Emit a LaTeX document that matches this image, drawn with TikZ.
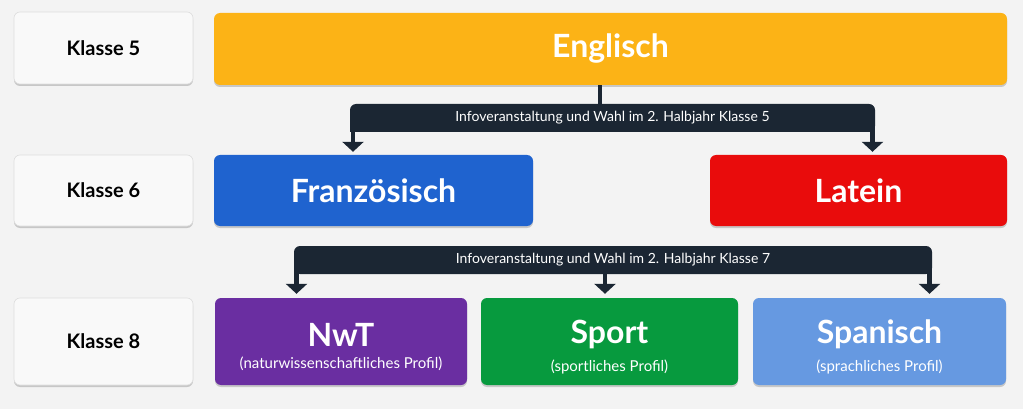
\documentclass[tikz,border=0pt]{standalone}
\usepackage{fontspec}
\setmainfont{Lato}
\usetikzlibrary{arrows.meta,shadows}
\definecolor{bgc}{HTML}{F3F3F3}
\definecolor{lblfill}{HTML}{F9F9F9}
\definecolor{lbldraw}{HTML}{DDDDDD}
\definecolor{engc}{HTML}{FCB316}
\definecolor{frc}{HTML}{1F63CF}
\definecolor{lac}{HTML}{E90C0C}
\definecolor{nwtc}{HTML}{6A2EA1}
\definecolor{spc}{HTML}{079A3E}
\definecolor{spac}{HTML}{6699E1}
\definecolor{darkc}{HTML}{1B2633}
\tikzset{
  box/.style={rounded corners=6pt, inner sep=0pt, align=center, text=white,
    drop shadow={shadow xshift=0pt, shadow yshift=-2pt, opacity=0.18, fill=black}},
  lbl/.style={box, fill=lblfill, draw=lbldraw, line width=0.6pt, text=black,
    font=\fontsize{20}{24}\selectfont\bfseries, minimum width=179pt},
  title/.style={font=\fontsize{32}{36}\selectfont\bfseries},
  barbox/.style={fill=darkc, rounded corners=6pt, inner sep=0pt, minimum height=28pt},
  bartext/.style={text=white, font=\fontsize{14}{16}\selectfont, inner sep=0pt},
  leg/.style={draw=darkc, line width=4.5pt, -{Triangle[width=21pt,length=10pt]}},
  stem/.style={draw=darkc, line width=4.5pt},
}
\newcommand{\twoline}[2]{{\fontsize{32}{34}\selectfont\bfseries\rule{0pt}{34pt}#1}\\[10pt]{\fontsize{15}{17}\selectfont #2}}
\begin{document}
\begin{tikzpicture}[x=1pt,y=-1pt]
\fill[bgc] (0,0) rectangle (1023,409);
\useasboundingbox (0,0) rectangle (1023,409);

% row labels
\node[lbl, minimum height=72pt] (k5) at (103.5,48) {Klasse 5};
\node[lbl, minimum height=71pt] (k6) at (103.5,190.5) {Klasse 6};
\node[lbl, minimum height=87pt] (k8) at (103.5,341.5) {Klasse 8};

% subject boxes
\node[box, fill=engc, minimum width=793pt, minimum height=72pt, title] (eng) at (610.5,49) {Englisch};
\node[box, fill=frc, minimum width=319pt, minimum height=71pt, title] (fr) at (373.5,190.5) {Französisch};
\node[box, fill=lac, minimum width=297pt, minimum height=71pt, title] (la) at (858.5,190.5) {Latein};

\node[box, fill=nwtc, minimum width=252pt, minimum height=87pt] (nwt) at (341,341.5)
  {\twoline{NwT}{(naturwissenschaftliches Profil)}};
\node[box, fill=spc, minimum width=257pt, minimum height=87pt] (sp) at (609.5,341.5)
  {\twoline{Sport}{(sportliches Profil)}};
\node[box, fill=spac, minimum width=253pt, minimum height=87pt] (spa) at (879.5,341.5)
  {\twoline{Spanisch}{(sprachliches Profil)}};

% bracket 1
\node[barbox, minimum width=525pt] (bar1) at (612.5,118) {};
\fill[darkc] (bar1.west) rectangle (bar1.south east);
\node[bartext] (t1) at (bar1.center) {Infoveranstaltung und Wahl im 2. Halbjahr Klasse 5};
\coordinate (s1) at (600,0);
\draw[stem] (eng.south -| s1) -- (bar1.north -| s1);
\coordinate (l1) at (353,0);
\coordinate (r1) at (872.5,0);
\draw[leg, shorten >=3pt] (bar1.south -| l1) -- (fr.north -| l1);
\draw[leg, shorten >=3pt] (bar1.south -| r1) -- (la.north -| r1);

% bracket 2
\node[barbox, minimum width=638pt] (bar2) at (613,260) {};
\fill[darkc] (bar2.west) rectangle (bar2.south east);
\node[bartext] (t2) at (bar2.center) {Infoveranstaltung und Wahl im 2. Halbjahr Klasse 7};
\coordinate (l2) at (296.5,0);
\coordinate (m2) at (605,0);
\coordinate (r2) at (929.5,0);
\draw[leg, shorten >=4pt] (bar2.south -| l2) -- (nwt.north -| l2);
\draw[leg, shorten >=4pt] (bar2.south -| m2) -- (sp.north -| m2);
\draw[leg, shorten >=4pt] (bar2.south -| r2) -- (spa.north -| r2);
\end{tikzpicture}
\end{document}
